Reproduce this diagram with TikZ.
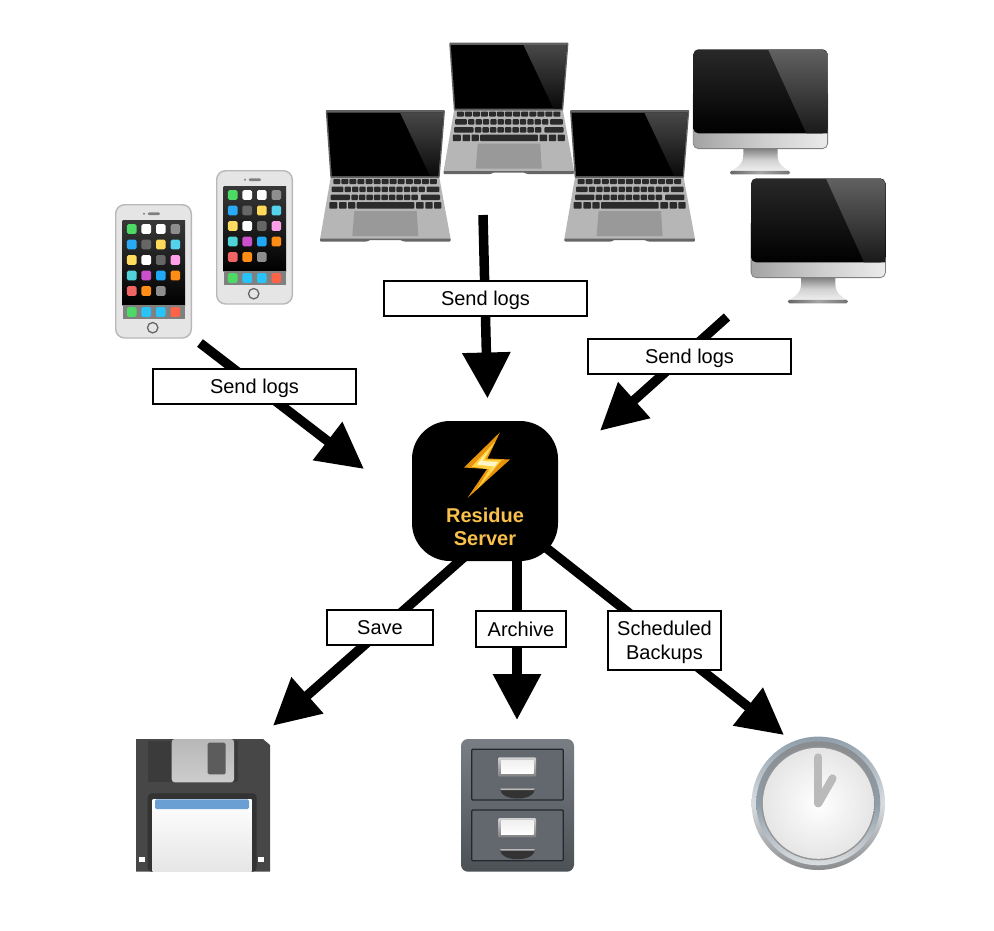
\documentclass[tikz,border=0pt]{standalone}
\usepackage{fontspec}
\setmainfont{Liberation Sans}
\usetikzlibrary{arrows.meta,backgrounds}
\definecolor{srvtxt}{HTML}{F9C04B}
\definecolor{keydark}{HTML}{2B2B2B}
\definecolor{lapgrey}{HTML}{B6B6B6}
\definecolor{diskblue}{HTML}{6A9FD4}
\definecolor{boltA}{HTML}{E8930C}
\definecolor{boltB}{HTML}{FFD23F}
\definecolor{boltC}{HTML}{FFF6C8}
\definecolor{cabtop}{HTML}{787E84}
\definecolor{cabbot}{HTML}{4C5156}
\definecolor{cabfront}{HTML}{62686E}
\definecolor{cabedge}{HTML}{24282C}
\definecolor{steelA}{HTML}{8E9EAA}
\definecolor{steelB}{HTML}{DADDE0}
\definecolor{steelC}{HTML}{8A8C8E}
\newcommand\lowered[1]{\raisebox{-2pt}[14pt][4pt]{#1}}
\tikzset{
  x=1pt,y=-1pt,
  flow/.style={line width=9.5pt,draw=black,-{Triangle[length=46pt,width=46pt]}},
  tag/.style={draw=black,line width=1.6pt,fill=white,inner sep=0pt,align=center,font=\fontsize{20}{24}\selectfont,text=black},
  servbox/.style={fill=black,rounded corners=38pt,minimum width=146pt,minimum height=140pt,inner sep=0pt},
  servtext/.style={align=center,inner sep=0pt,text=srvtxt,font=\fontsize{20}{23}\selectfont\bfseries},
  key/.style={fill=keydark,draw=none,rounded corners=0.8pt}
}
\newcommand\phoneicon[2]{%
\begin{scope}[shift={(#1,#2)}]
  \fill[draw=black!28,line width=1.4pt,fill=black!10,rounded corners=9pt] (0.7,0.7) rectangle (76.3,134);
  \shade[top color=black!78,bottom color=black] (7.7,16) rectangle (70,101);
  \fill[black!50] (7.7,101) rectangle (70,115);
  \foreach \c/\i/\r in {
    4CD964/0/0,FFFFFF/1/0,FFFFFF/2/0,8E8E8E/3/0,
    2AA9F5/0/1,666666/1/1,FFD95A/2/1,55D3EC/3/1,
    FFDC5F/0/2,FFFFFF/1/2,666666/2/2,FF9FE8/3/2,
    4FD3D8/0/3,CC4FCC/1/3,20A8F5/2/3,FF8C14/3/3,
    F06464/0/4,FF8C14/1/4,8E8E8E/2/4}{
    \definecolor{tmpc}{HTML}{\c}
    \fill[tmpc,rounded corners=1.5pt] ({11.9+14.55*\i},{20.2+15.5*\r}) rectangle ++(9.6,9.6);
  }
  \foreach \c/\i in {4CD964/0,28C3F8/1,28C3F8/2,FF6347/3}{
    \definecolor{tmpc}{HTML}{\c}
    \fill[tmpc,rounded corners=1.5pt] ({11.9+14.55*\i},103.2) rectangle ++(9.6,9.6);
  }
  \fill[black!50] (29,9.7) circle[radius=1.2];
  \fill[black!50,rounded corners=1.2pt] (32.7,8.4) rectangle (45,11);
  \draw[black!60,line width=1.3pt] (37.7,123.7) circle[radius=5.2];
\end{scope}}
\newcommand\laptopicon[2]{%
\begin{scope}[shift={(#1,#2)}]
  \fill[lapgrey] (10.7,67.3) -- (119.3,67.3) -- (130.7,129.3) -- (0,129.3) -- cycle;
  \fill[black!60,rounded corners=0.8pt] (0,128.5) -- (130.7,128.5) -- (130.5,131.5) -- (84,131.5) -- (80,130) -- (50,130) -- (47,131.5) -- (0.2,131.5) -- cycle;
  \fill[black!62,rounded corners=1pt] (5.7,0) -- (125,0) -- (119.6,68) -- (10.4,68) -- cycle;
  \fill[black] (7.3,2.5) -- (123.2,2.5) -- (118.2,66) -- (11.8,66) -- cycle;
  \shade[top color=black!72,bottom color=black!96] (80,2.5) -- (123.2,2.5) -- (118.2,66) -- (110,66) -- cycle;
  \foreach \i in {0,...,12}{\fill[key] ({13.3+8.05*\i},69) rectangle ++(7,5);}
  \fill[key] (11.7,76.7) rectangle (23.3,82);
  \foreach \i in {0,...,10}{\fill[key] ({24.6+7.4*\i},76.7) rectangle ++(6.3,5.3);}
  \fill[key] (106.5,76.7) rectangle (119.3,82);
  \fill[key] (10.7,84.7) rectangle (30,90);
  \foreach \i in {0,...,8}{\fill[key] ({31.4+7.5*\i},84.7) rectangle ++(6.4,5.3);}
  \fill[key] (100.8,84.7) rectangle (120,90);
  \fill[key] (9.3,92) rectangle (17.3,98.7);
  \fill[key] (19,92) rectangle (26.7,98.7);
  \fill[key] (28,92) rectangle (35.3,98.7);
  \fill[key] (36.7,92) rectangle (94.3,98.7);
  \fill[key] (96,92) rectangle (103.7,98.7);
  \fill[key] (105.3,92) rectangle (112.7,98.7);
  \fill[key] (114,92) rectangle (121.3,98.7);
  \fill[black!40] (34.3,101) -- (96.7,101) -- (98.3,126) -- (32.3,126) -- cycle;
\end{scope}}
\newcommand\imacicon[2]{%
\begin{scope}[shift={(#1,#2)}]
  \shade[top color=black!50,bottom color=black!6,middle color=black!18] (50,99) .. controls (50,110) and (51,115) .. (37,122) -- (97,122) .. controls (83,115) and (84.3,110) .. (84.3,99) -- cycle;
  \shade[left color=black!60,right color=black!55,middle color=black!35,rounded corners=1.5pt] (36.7,121.5) rectangle (96.7,125);
  \shade[left color=black!36,right color=black!8,middle color=black!20,draw=black!50,line width=0.8pt,rounded corners=5pt] (0,40) -- (0,99.3) -- (134.3,99.3) -- (134.3,40) -- cycle;
  \shade[top color=black!84,bottom color=black,rounded corners=5pt] (0,84) -- (0,0) -- (134.3,0) -- (134.3,84) -- cycle;
  \shade[top color=black!62,bottom color=black!90] (75,0.6) -- (130,0.6) -- (134.3,4) -- (134.3,84) -- (113,84) -- cycle;
\end{scope}}
\newcommand\drawerfront[1]{%
  \begin{scope}[yshift=#1]
    \fill[fill=cabfront,draw=cabedge,line width=1.2pt,rounded corners=1pt] (10.7,10.3) rectangle (102.3,61);
    \shade[top color=black!18,bottom color=black!50,rounded corners=1pt] (37.3,18.3) rectangle (75,37.7);
    \shade[top color=black!6,bottom color=white] (40,21) rectangle (72.5,34.5);
    \fill[black!80] (39,49.3) -- (74,49.3) .. controls (74,56) and (66,59.5) .. (56.5,59.5) .. controls (47,59.5) and (39,56) .. (39,49.3) -- cycle;
    \fill[black!28] (39,49.3) -- (74,49.3) -- (73,51) -- (40,51) -- cycle;
  \end{scope}}
\begin{document}
\begin{tikzpicture}
\useasboundingbox (0,0) rectangle (994,930);

% icons
\phoneicon{115}{204}
\phoneicon{216}{170}
\laptopicon{320}{110}
\laptopicon{564.3}{110}
\laptopicon{443.5}{42.5}
\imacicon{693.3}{49.3}
\imacicon{751.1}{178.3}

% floppy disk
\begin{scope}[shift={(136,739)}]
  \fill[black!72] (0,0) -- (127,0) -- (134,6) -- (134,132.7) -- (0,132.7) -- cycle;
  \fill[black!77] (11.7,2) rectangle (101.7,43.3);
  \fill[black!80,rounded corners=4pt] (11.7,54.3) -- (120.7,54.3) -- (120.7,132.7) -- (11.7,132.7) -- cycle;
  \shade[top color=black!28,bottom color=black!20,rounded corners=3pt] (35.7,0) -- (98,0) -- (98,43.3) -- (35.7,43.3) -- cycle;
  \fill[black!64,rounded corners=1.5pt] (71.7,3.7) rectangle (89.7,35.3);
  \shade[top color=white,bottom color=black!10] (16.7,60) rectangle (115.7,132.7);
  \fill[diskblue,rounded corners=1.5pt] (19,60.3) rectangle (113,70);
  \fill[white] (3,118.3) rectangle (9,123.3);
  \fill[white] (121.7,118.3) rectangle (128.3,123.3);
\end{scope}

% cabinet
\begin{scope}[shift={(461,739)}]
  \shade[top color=cabtop,bottom color=cabbot,rounded corners=7pt] (0,0) rectangle (113,132.7);
  \drawerfront{0pt}
  \drawerfront{-60.7pt}
\end{scope}

% clock
\begin{scope}[shift={(818.3,803.3)}]
  \shade[top color=steelA,bottom color=steelC,middle color=steelB] (0,0) circle[radius=66.7];
  \shade[top color=steelC,bottom color=steelB,middle color=steelA] (0,0) circle[radius=62];
  \fill[black!42] (0,0) circle[radius=57];
  \shade[inner color=white,outer color=black!10] (0,0) circle[radius=55.5];
  \draw[black!27,line width=8pt,line cap=round] (0,0) -- (0,-46);
  \draw[black!27,line width=8pt,line cap=round] (0,0) -- (14.3,-25);
\end{scope}

% server
\node[servbox] (server) at (485,491) {};
\fill[boltA] (500,432.3) -- (464,467.5) -- (487,469) -- (467.5,498) -- (510,459.5) -- (487.5,458.5) -- cycle;
\fill[boltB] (495,441.7) -- (471.7,466.7) -- (489.3,469.3) -- (476.7,490) -- (501.7,460) -- (485,459.3) -- cycle;
\fill[boltC] (488,451) -- (477,464.5) -- (494,466.5) -- (490,473) -- (498,462) -- (482,461) -- cycle;
\node[servtext] (srvname) at (485,526.5) {Residue\\Server};

% connector ends
\coordinate (phones) at (200,343);
\coordinate (intoA) at (364,469);
\coordinate (laptops) at (483,215);
\coordinate (intoB) at (487.5,398.5);
\coordinate (imacs) at (727,317);
\coordinate (intoC) at (600,430.7);
\coordinate (outA) at (465.3,556);
\coordinate (disk) at (273,725.7);
\coordinate (outB) at (517,556);
\coordinate (cabinet) at (517,720);
\coordinate (outC) at (540,543);
\coordinate (clock) at (784,735);

\begin{scope}[on background layer]
  \fill[white] (0,0) rectangle (994,930);
  \draw[flow] (phones) -- (intoA);
  \draw[flow] (laptops) -- (intoB);
  \draw[flow] (imacs) -- (intoC);
  \draw[flow] (outA) -- (disk);
  \draw[flow] (outB) -- (cabinet);
  \draw[flow] (outC) -- (clock);
\end{scope}

% labels
\node[tag,minimum width=203pt,minimum height=35pt] (t1) at (254.5,386.5) {\lowered{Send logs}};
\node[tag,minimum width=203pt,minimum height=35pt] (t2) at (485.5,298.5) {\lowered{Send logs}};
\node[tag,minimum width=203pt,minimum height=35pt] (t3) at (689.5,356.5) {\lowered{Send logs}};
\node[tag,minimum width=106pt,minimum height=35pt] (t4) at (380,627.5) {Save};
\node[tag,minimum width=90pt,minimum height=36pt] (t5) at (521,629) {Archive};
\node[tag,minimum width=113pt,minimum height=59pt] (t6) at (664.5,640.5) {\lowered{Scheduled}\\\lowered{Backups}};
\end{tikzpicture}
\end{document}
